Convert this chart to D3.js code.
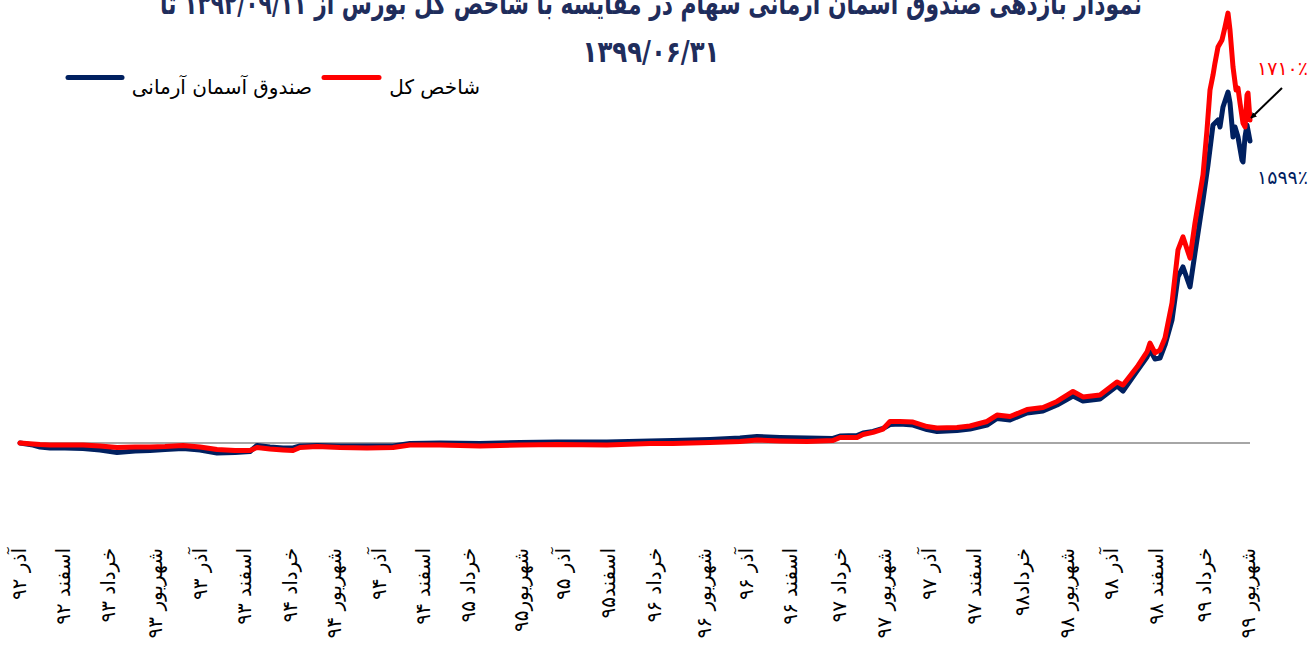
<!DOCTYPE html>
<html>
<head>
<meta charset="utf-8">
<script src="https://cdn.jsdelivr.net/npm/d3@7"></script>
<style>
  body { margin: 0; background: #fff; }
  svg text { font-family: "DejaVu Sans", sans-serif; }
</style>
</head>
<body>
<div id="chart"></div>
<script>
// x axis labels (quarterly) and their positions on the day index
var tickDays = [-2, 42, 87, 134, 179, 223, 269, 313, 358, 402, 447, 500, 542, 587,
                633, 683, 725, 769, 818, 863, 908, 953, 1001, 1046, 1090, 1135, 1183, 1227];
var tickLabels = ["آذر ۹۲", "اسفند ۹۲", "خرداد ۹۳", "شهریور ۹۳", "آذر ۹۳", "اسفند ۹۳",
                  "خرداد ۹۴", "شهریور ۹۴", "آذر ۹۴", "اسفند ۹۴", "خرداد ۹۵", "شهریور۹۵",
                  "آذر ۹۵", "اسفند۹۵", "خرداد ۹۶", "شهریور ۹۶", "آذر ۹۶", "اسفند ۹۶",
                  "خرداد ۹۷", "شهریور ۹۷", "آذر ۹۷", "اسفند ۹۷", "خرداد۹۸", "شهریور ۹۸",
                  "آذر ۹۸", "اسفند ۹۸", "خرداد ۹۹", "شهریور ۹۹"];

// شاخص کل - cumulative return (%)
var indexDays = [0, 13, 20, 30, 45, 63, 80, 97, 115, 130, 145, 163, 180, 197, 215, 230, 237, 250, 263, 273,
                 280, 297, 320, 347, 373, 390, 420, 460, 500, 537, 587, 630, 653, 690, 720, 737, 760, 787, 813, 820,
                 837, 843, 853, 863, 870, 880, 893, 907, 917, 937, 950, 967, 977, 990, 1007, 1023, 1037, 1053, 1063, 1080,
                 1097, 1103, 1117, 1127, 1130, 1135, 1140, 1145, 1152, 1158, 1163, 1170, 1175, 1183, 1187, 1190, 1193, 1195, 1198, 1202,
                 1205, 1208, 1210, 1213, 1216, 1218, 1220, 1223, 1225, 1227, 1228, 1230];
var indexReturn = [0, -5, -8, -11, -11, -11, -16, -24, -21, -21, -19, -13, -21, -34, -40, -40, -24, -32, -37, -40,
                   -24, -19, -24, -26, -24, -11, -11, -16, -11, -8, -11, -3, -3, 3, 8, 16, 11, 8, 13, 29,
                   29, 45, 56, 74, 114, 114, 111, 87, 79, 82, 90, 114, 148, 140, 177, 188, 220, 273, 244, 254,
                   323, 307, 402, 482, 529, 477, 492, 556, 741, 1022, 1091, 979, 1165, 1419, 1657, 1869, 1948, 2012, 2096, 2134,
                   2202, 2276, 2186, 1991, 1869, 1879, 1800, 1694, 1673, 1842, 1853, 1710];

// صندوق آسمان آرمانی - cumulative return (%)
var fundDays = [0, 13, 20, 30, 45, 63, 80, 97, 115, 130, 145, 163, 180, 197, 215, 230, 237, 250, 263, 273,
                280, 297, 320, 347, 373, 390, 420, 460, 500, 537, 587, 630, 653, 690, 720, 737, 760, 787, 813, 820,
                837, 843, 853, 863, 870, 880, 893, 907, 917, 937, 950, 967, 977, 990, 1007, 1023, 1037, 1053, 1063, 1080,
                1097, 1103, 1117, 1127, 1130, 1135, 1140, 1145, 1152, 1158, 1163, 1170, 1175,
                1183, 1188, 1193, 1198, 1200, 1203, 1208, 1210, 1213, 1215, 1218, 1222, 1223, 1225, 1227, 1230];
var fundReturn = [0, -11, -21, -26, -26, -29, -37, -50, -42, -40, -34, -29, -37, -53, -50, -45, -13, -21, -26, -26,
                  -16, -13, -16, -16, -16, -3, 0, -3, 3, 5, 5, 11, 13, 19, 26, 34, 29, 26, 24, 37,
                  40, 53, 61, 77, 98, 101, 95, 71, 61, 66, 74, 95, 130, 122, 159, 169, 201, 249, 222, 233,
                  302, 275, 381, 455, 492, 445, 450, 519, 651, 879, 932, 826, 1006,
                  1286, 1472, 1684, 1710, 1673, 1779, 1858, 1800, 1620, 1673, 1620, 1498, 1488, 1620, 1684, 1599];

var seriesNames = ["صندوق آسمان آرمانی", "شاخص کل"];
var titleLines = ["نمودار بازدهی صندوق آسمان آرمانی سهام در مقایسه با شاخص کل بورس از ۱۳۹۲/۰۹/۱۱ تا", "۱۳۹۹/۰۶/۳۱"];
var endLabels = ["۱۷۱۰٪", "۱۵۹۹٪"];

var width = 1312, height = 646;
var navy = "#002060", red = "#ff0000";

var svg = d3.select("#chart")
  .append("svg")
  .attr("width", width)
  .attr("height", height);

var x = d3.scaleLinear().domain([0, 1230]).range([20, 1250]);
var y = d3.scaleLinear().domain([0, 1710]).range([443, 120]);

// title (first line runs off the top edge, as in the original)
svg.append("text")
  .attr("x", 651).attr("y", 14)
  .attr("text-anchor", "middle")
  .attr("direction", "rtl")
  .attr("font-size", 30).attr("font-weight", "bold")
  .attr("fill", "#1f2d5c")
  .attr("textLength", 982).attr("lengthAdjust", "spacingAndGlyphs")
  .text(titleLines[0]);
svg.append("text")
  .attr("x", 651).attr("y", 62)
  .attr("text-anchor", "middle")
  .attr("font-size", 30).attr("font-weight", "bold")
  .attr("fill", "#1f2d5c")
  .attr("textLength", 137).attr("lengthAdjust", "spacingAndGlyphs")
  .text(titleLines[1]);

// legend
var legend = [
  {name: seriesNames[0], color: navy, x1: 68, x2: 122, tx: 312},
  {name: seriesNames[1], color: red, x1: 324, x2: 379, tx: 480}
];
legend.forEach(function(l) {
  svg.append("line")
    .attr("x1", l.x1).attr("x2", l.x2).attr("y1", 77.5).attr("y2", 77.5)
    .attr("stroke", l.color).attr("stroke-width", 5).attr("stroke-linecap", "round");
  svg.append("text")
    .attr("x", l.tx).attr("y", 94)
    .attr("text-anchor", "end")
    .attr("font-size", 20)
    .attr("fill", "#000")
    .text(l.name);
});

// zero line
svg.append("line")
  .attr("x1", x(0)).attr("x2", x(1230))
  .attr("y1", y(0)).attr("y2", y(0))
  .attr("stroke", "#a6a6a6").attr("stroke-width", 2);

// x axis labels
var xAxis = svg.append("g")
  .attr("transform", "translate(0,548)")
  .call(d3.axisBottom(x)
    .tickValues(tickDays)
    .tickSize(0)
    .tickFormat(function(d) { return tickLabels[tickDays.indexOf(d)]; }));
xAxis.select(".domain").remove();
xAxis.attr("font-family", "DejaVu Sans").attr("font-size", 20);
xAxis.selectAll("text")
  .attr("transform", "rotate(-90)")
  .attr("x", 0).attr("y", 0)
  .attr("dy", "0.35em")
  .attr("fill", "#000")
  .style("text-anchor", "end");

// lines
var line = d3.line()
  .x(function(d) { return x(d[0]); })
  .y(function(d) { return y(d[1]); });

svg.append("path")
  .datum(d3.zip(fundDays, fundReturn))
  .attr("fill", "none")
  .attr("stroke", navy).attr("stroke-width", 5)
  .attr("stroke-linejoin", "round").attr("stroke-linecap", "round")
  .attr("d", line);

svg.append("path")
  .datum(d3.zip(indexDays, indexReturn))
  .attr("fill", "none")
  .attr("stroke", red).attr("stroke-width", 5)
  .attr("stroke-linejoin", "round").attr("stroke-linecap", "round")
  .attr("d", line);

// end labels + arrow
var lastX = x(indexDays[indexDays.length - 1]);
var lastIdx = y(indexReturn[indexReturn.length - 1]);
var lastFund = y(fundReturn[fundReturn.length - 1]);

svg.append("defs").append("marker")
  .attr("id", "arrow")
  .attr("viewBox", "0 0 10 10")
  .attr("refX", 9).attr("refY", 5)
  .attr("markerWidth", 3).attr("markerHeight", 3)
  .attr("orient", "auto")
  .append("path").attr("d", "M0,0L10,5L0,10z").attr("fill", "#000");

svg.append("line")
  .attr("x1", lastX + 32).attr("y1", lastIdx - 32)
  .attr("x2", lastX + 1).attr("y2", lastIdx - 2)
  .attr("stroke", "#000").attr("stroke-width", 2)
  .attr("marker-end", "url(#arrow)");

svg.append("text")
  .attr("x", lastX + 7).attr("y", lastIdx - 45)
  .attr("font-size", 19)
  .attr("fill", red)
  .text(endLabels[0]);

svg.append("text")
  .attr("x", lastX + 7).attr("y", lastFund + 43)
  .attr("font-size", 19)
  .attr("fill", navy)
  .text(endLabels[1]);
</script>
</body>
</html>
